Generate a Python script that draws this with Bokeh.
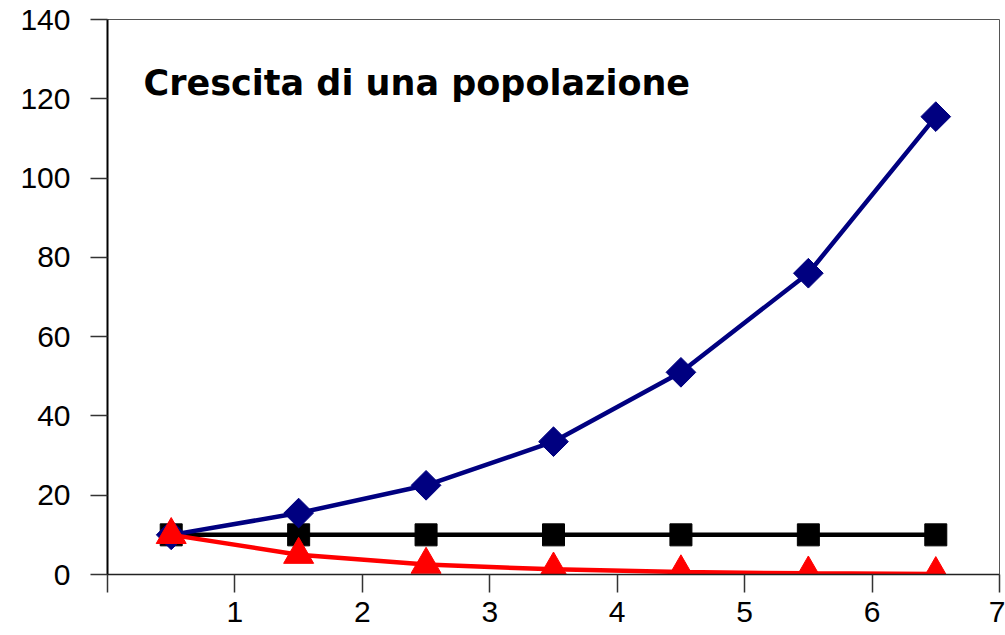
from bokeh.plotting import figure
from bokeh.models import FixedTicker, Label, Range1d
from bokeh.embed import file_html
from bokeh.resources import INLINE
import numpy as np

# Data
x_vals = [0.5, 1.5, 2.5, 3.5, 4.5, 5.5, 6.5]
crescita = [10, 15.5, 22.5, 33.5, 51, 76, 115.5]
costante = [10, 10, 10, 10, 10, 10, 10]
declino = [10, 5, 2.5, 1.3, 0.6, 0.3, 0.15]
x_ticks = [0, 1, 2, 3, 4, 5, 6, 7]
y_ticks = [0, 20, 40, 60, 80, 100, 120, 140]
title_text = "Crescita di una popolazione"

p = figure(width=1005, height=635, output_backend="svg", toolbar_location=None,
           x_range=Range1d(0, 7), y_range=Range1d(0, 140),
           min_border_left=107, min_border_right=6, min_border_top=19, min_border_bottom=61)
p.xgrid.visible = False
p.ygrid.visible = False
p.background_fill_color = "white"
p.border_fill_color = "white"
p.outline_line_color = "#555555"
p.outline_line_width = 1

for ax in (p.xaxis[0], p.yaxis[0]):
    ax.major_label_text_font = "Liberation Sans"
    ax.major_label_text_font_size = "30px"
    ax.major_label_text_color = "black"
    ax.minor_tick_line_color = None
    ax.major_tick_in = 0
    ax.major_tick_line_color = "#333333"
    ax.major_tick_line_width = 1.5
    ax.axis_line_color = "#222222"
    ax.axis_line_width = 1.5

p.xaxis.ticker = FixedTicker(ticks=x_ticks)
p.xaxis.major_label_overrides = {0: ""}
p.xaxis.major_tick_out = 18
p.xaxis.major_label_standoff = 9

p.yaxis.ticker = FixedTicker(ticks=y_ticks)
p.yaxis.major_tick_out = 17
p.yaxis.major_label_standoff = 20
p.yaxis.axis_line_color = "black"
p.yaxis.axis_line_width = 2

# Black constant series
p.line(x_vals, costante, line_color="black", line_width=4.5)
p.scatter(x_vals, costante, marker="square", size=22, fill_color="black", line_color="black")

# Blue growth series
p.line(x_vals, crescita, line_color="#000080", line_width=4.5)
p.scatter(x_vals, crescita, marker="square", angle=np.pi / 4, size=21,
          fill_color="#000080", line_color="#000080")

# Red decline series
p.line(x_vals, declino, line_color="#FF0000", line_width=4.5)
p.scatter(x_vals, declino, marker="triangle", size=30, fill_color="#FF0000", line_color="#FF0000")

title = Label(x=0.283, y=124.1, text=title_text,
              text_font="DejaVu Sans", text_font_style="bold", text_font_size="35px",
              text_color="black", text_baseline="alphabetic")
p.add_layout(title)

open("out.html", "w").write(file_html(p, INLINE))
